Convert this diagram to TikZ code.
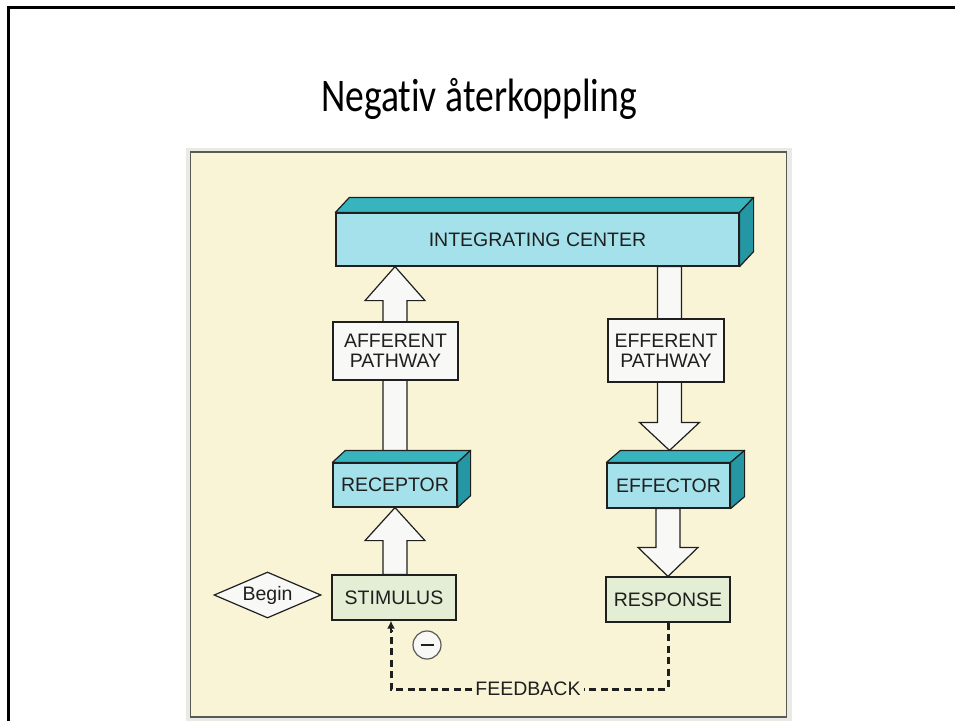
\documentclass[tikz,border=0pt]{standalone}
\usepackage{fontspec}
\setmainfont{Liberation Sans}
\newfontfamily\titlefont[Ligatures=NoCommon]{Carlito}
\usetikzlibrary{shapes.geometric,calc,arrows.meta}

\definecolor{panelcream}{HTML}{FAF4D7}
\definecolor{panelhalo}{HTML}{EAEAE5}
\definecolor{panelline}{HTML}{5A5A55}
\definecolor{cyanfront}{HTML}{A4E1EA}
\definecolor{cyantop}{HTML}{38B4BF}
\definecolor{cyanside}{HTML}{2596A3}
\definecolor{stimfill}{HTML}{E3EED5}
\definecolor{arrowfill}{HTML}{F8F8F6}
\definecolor{inkgray}{HTML}{1F1F1F}

\tikzset{
  label font/.style={font=\fontsize{19.5}{21}\selectfont, text=inkgray},
  outlined/.style={draw=inkgray, line width=1.2pt},
  cyanbox/.style={outlined, fill=cyanfront, inner sep=0pt, label font, align=center},
  whitebox/.style={outlined, fill=arrowfill, inner sep=0pt, label font, align=center},
  greenbox/.style={outlined, fill=stimfill, inner sep=0pt, label font, align=center},
  topface/.style={outlined, fill=cyantop, line join=round},
  sideface/.style={outlined, fill=cyanside, line join=round},
  blockarrowstyle/.style={outlined, fill=arrowfill, line join=miter},
  fbline/.style={draw=inkgray, line width=3pt, dash pattern=on 7pt off 4.5pt},
}

% top and right faces of a prism whose front face is node #1, depth (#2,#3)
\newcommand\prismfaces[3]{%
  \filldraw[topface] (#1.north west) -- ++(#2,-#3) -- ($(#1.north east)+(#2,-#3)$) -- (#1.north east) -- cycle;
  \filldraw[sideface] (#1.north east) -- ++(#2,-#3) -- ($(#1.south east)+(#2,-#3)$) -- (#1.south east) -- cycle;
}

% vertical block arrow: #1 tail, #2 tip, #3 head length
\newcommand\blockarrow[3]{%
  \coordinate (ba-tip) at (#2);
  \coordinate (ba-tail) at (ba-tip |- #1);
  \coordinate (ba-base) at ($(ba-tip)!#3pt!(ba-tail)$);
  \filldraw[blockarrowstyle] ($(ba-tail)+(-12,0)$) -- ($(ba-base)+(-12,0)$) -- ($(ba-base)+(-30,0)$)
    -- (ba-tip) -- ($(ba-base)+(30,0)$) -- ($(ba-base)+(12,0)$) -- ($(ba-tail)+(12,0)$) -- cycle;
}

\begin{document}
\begin{tikzpicture}[x=1pt, y=-1pt]
  \useasboundingbox (0,0) rectangle (955,720);
  \begin{scope}
    \clip (0,0) rectangle (955,720);

    % slide frame
    \draw[black, line width=3pt] (8,740) -- (8,7) -- (970,7);

    % title
    \node[text=black, inner sep=0pt] (title) at (479,99)
      {\scalebox{0.94}[1.17]{\titlefont\fontsize{40}{48}\selectfont Negativ återkoppling}};

    % photo panel
    \fill[panelhalo] (186,148) rectangle (792,730);
    \filldraw[fill=panelcream, draw=panelline, line width=1.4pt] (190.5,152) rectangle (786.5,717);

    % node positions
    \path
      (537.5,239.5) node[cyanbox, minimum width=403pt, minimum height=53pt] (ic) {INTEGRATING CENTER}
      (395,485)     node[cyanbox, minimum width=124pt, minimum height=44pt] (rec) {RECEPTOR}
      (668.5,485.5) node[cyanbox, minimum width=123pt, minimum height=45pt] (effr) {EFFECTOR};

    \coordinate (efftop) at ($(effr.north)+(1,-12)$);
    \coordinate (afftip) at (rec.north |- ic.south);

    % block arrows (drawn beneath the boxes)
    \blockarrow{rec.north}{afftip}{34}
    \blockarrow{ic.south}{efftop}{28}

    \path
      (395.5,351) node[whitebox, minimum width=125pt, minimum height=58pt] (aff) {AFFERENT\\[-1pt]PATHWAY}
      (666,350.5) node[whitebox, minimum width=116pt, minimum height=63pt] (effp) {EFFERENT\\[-1pt]PATHWAY}
      (394,597.5) node[greenbox, minimum width=124pt, minimum height=45pt] (stim) {STIMULUS}
      (668,599.5) node[greenbox, minimum width=124pt, minimum height=45pt] (resp) {RESPONSE}
      (267.5,595) node[shape=diamond, outlined, fill=arrowfill, inner sep=0pt, aspect=2.3,
                       minimum width=107pt, minimum height=46pt, label font] (begin) {Begin};

    \blockarrow{stim.north}{rec.south}{33}
    \blockarrow{effr.south}{resp.north}{29}

    % redraw the prisms on top of the arrow tails
    \node[cyanbox, minimum width=403pt, minimum height=53pt] at (ic) {INTEGRATING CENTER};
    \prismfaces{ic}{14}{15}
    \node[cyanbox, minimum width=124pt, minimum height=44pt] at (rec) {RECEPTOR};
    \prismfaces{rec}{13}{12}
    \node[cyanbox, minimum width=123pt, minimum height=45pt] at (effr) {EFFECTOR};
    \prismfaces{effr}{14}{12}

    % feedback loop
    \node[label font, fill=panelcream, inner sep=3pt] (fb) at (528,689) {FEEDBACK};
    \coordinate (fbin) at ($(stim.south)+(-3,0)$);
    \draw[fbline] (resp.south) |- (fb.east);
    \draw[fbline] (fb.west) -| ($(fbin)+(0,9)$);
    \draw[draw=inkgray, line width=2.6pt, -{Latex[length=8pt,width=8pt]}] ($(fbin)+(0,12)$) -- (fbin);

    % negative sign
    \node[circle, draw=panelline, line width=1.2pt, fill=arrowfill, minimum size=28pt, inner sep=0pt] (neg) at (427,645) {};
    \draw[inkgray, line width=2pt] ($(neg.center)+(-6.5,0)$) -- ($(neg.center)+(6.5,0)$);
  \end{scope}
\end{tikzpicture}
\end{document}
